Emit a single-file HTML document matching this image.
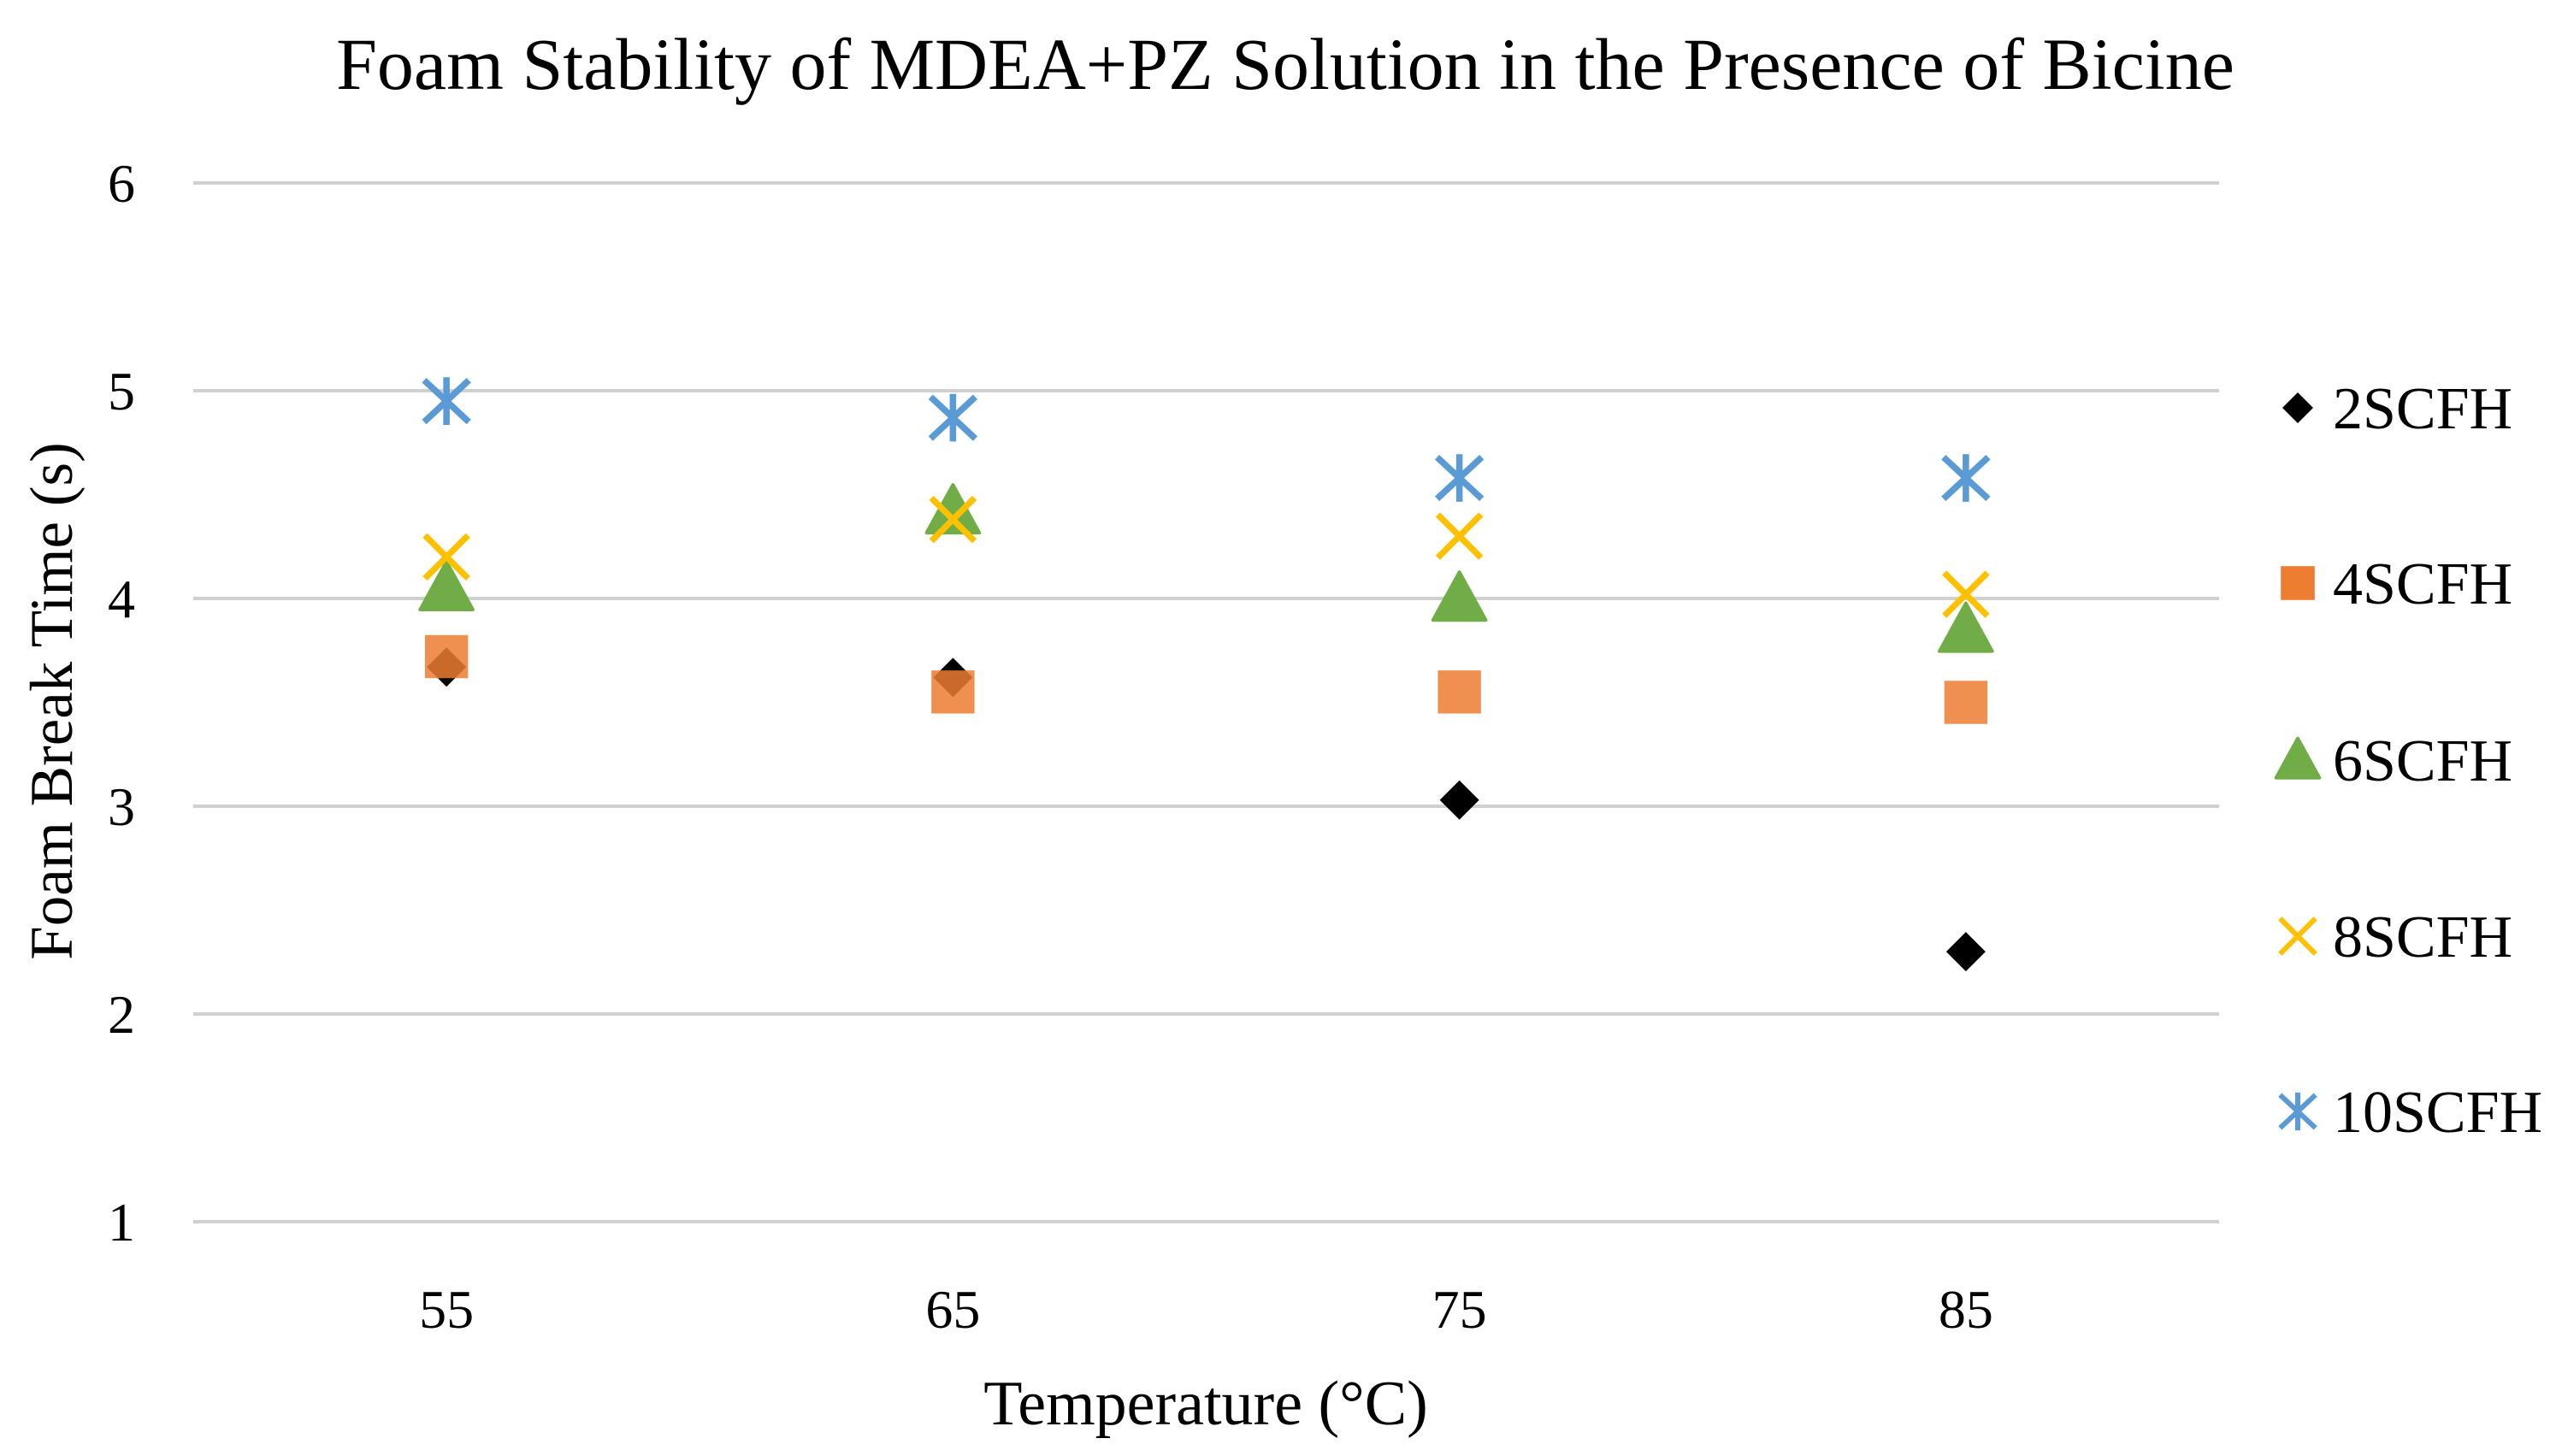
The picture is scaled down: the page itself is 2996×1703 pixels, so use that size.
<!DOCTYPE html>
<html><head><meta charset="utf-8"><style>
html,body{margin:0;padding:0;background:#fff;}
svg{display:block;}
text{font-family:"Liberation Serif",serif;fill:#000;}
</style></head><body>
<svg id="chart" width="2996" height="1703" viewBox="0 0 2996 1703">
<text x="1503" y="104" font-size="86" text-anchor="middle">Foam Stability of MDEA+PZ Solution in the Presence of Bicine</text>
<g id="grid"></g>
<g id="yticks"></g>
<g id="xticks"></g>
<text x="1410" y="1666" font-size="74" text-anchor="middle">Temperature (°C)</text>
<text transform="translate(84,820) rotate(-90)" font-size="71" text-anchor="middle">Foam Break Time (s)</text>
<g id="marks"></g>
<g id="legend"></g>
</svg>
<script>
const categories = ["55","65","75","85"];
const seriesNames = ["2SCFH","4SCFH","6SCFH","8SCFH","10SCFH"];
const s2 = [3.67, 3.62, 3.03, 2.30];
const s4 = [3.72, 3.55, 3.55, 3.50];
const s6 = [4.05, 4.42, 4.00, 3.85];
const s8 = [4.20, 4.38, 4.30, 4.02];
const s10 = [4.95, 4.87, 4.58, 4.58];
const yTicks = [1,2,3,4,5,6];

const NS = "http://www.w3.org/2000/svg";
const X0 = 226, X1 = 2595, Y6 = 214, YSTEP = 243;
function xPos(i){ return X0 + (X1 - X0) / categories.length * (i + 0.5); }
function yPos(v){ return Y6 + (6 - v) * YSTEP; }
function mk(tag, attrs, parent){ const e = document.createElementNS(NS, tag); for (const k in attrs) e.setAttribute(k, attrs[k]); parent.appendChild(e); return e; }

const grid = document.getElementById('grid'), yt = document.getElementById('yticks'), xt = document.getElementById('xticks');
yTicks.forEach(v => {
  const l = mk('line', {x1:X0, x2:X1, y1:yPos(v), y2:yPos(v), stroke:'#d0d0d0', 'stroke-width':4}, grid);
  
  
  const t = mk('text', {x:158, y:yPos(v) + 22, 'font-size':64, 'text-anchor':'end'}, yt);
  t.textContent = v;
  
  
});
categories.forEach((c, i) => {
  const t = mk('text', {x:xPos(i), y:1553, 'font-size':64, 'text-anchor':'middle'}, xt);
  t.textContent = c;
  
  
});

function marker(kind, cx, cy, s, parent){
  let e;
  if (kind === 0) e = mk('polygon', {points:`${cx},${cy-s*0.5} ${cx+s*0.5},${cy} ${cx},${cy+s*0.5} ${cx-s*0.5},${cy}`, fill:'#000'}, parent);
  else if (kind === 1) e = mk('rect', {x:cx-s*0.45, y:cy-s*0.45, width:s*0.9, height:s*0.9, fill:'#ED7D31'}, parent);
  else if (kind === 2) e = mk('polygon', {points:`${cx},${cy-s*0.55} ${cx+s*0.55},${cy+s*0.45} ${cx-s*0.55},${cy+s*0.45}`, fill:'#70AD47', 'stroke':'#70AD47','stroke-linejoin':'round','stroke-width':4}, parent);
  else if (kind === 3) { e = mk('path', {d:`M${cx-s*0.45},${cy-s*0.45}L${cx+s*0.45},${cy+s*0.45}M${cx+s*0.45},${cy-s*0.45}L${cx-s*0.45},${cy+s*0.45}`, stroke:'#FFC000', 'stroke-width':s*0.13, fill:'none'}, parent); }
  else { e = mk('path', {d:`M${cx-s*0.45},${cy-s*0.42}L${cx+s*0.45},${cy+s*0.42}M${cx+s*0.45},${cy-s*0.42}L${cx-s*0.45},${cy+s*0.42}M${cx},${cy-s*0.48}L${cx},${cy+s*0.48}`, stroke:'#5B9BD5', 'stroke-width':s*0.13, fill:'none'}, parent); }
  return e;
}

const marks = document.getElementById('marks');
const allSeries = [s2, s4, s6, s8, s10];
const sizes = [46, 56, 56, 56, 58];
allSeries.forEach((arr, si) => {
  const g = mk('g', {}, marks);
  
  
  if (si === 1) g.setAttribute('opacity', '0.85');
  arr.forEach((v, i) => {
    const m = marker(si, xPos(i), yPos(v), sizes[si], g);
    
    
  });
});

const legend = document.getElementById('legend');
const legY = [477, 682, 889, 1095, 1300];
const legSize = [36, 44, 46, 46, 46];
seriesNames.forEach((n, i) => {
  const g = mk('g', {}, legend);
  
  
  marker(i, 2687, legY[i], legSize[i], g);
  const t = mk('text', {x:2728, y:legY[i] + 24, 'font-size':70}, g);
  t.textContent = n;
});
</script>
</body></html>
